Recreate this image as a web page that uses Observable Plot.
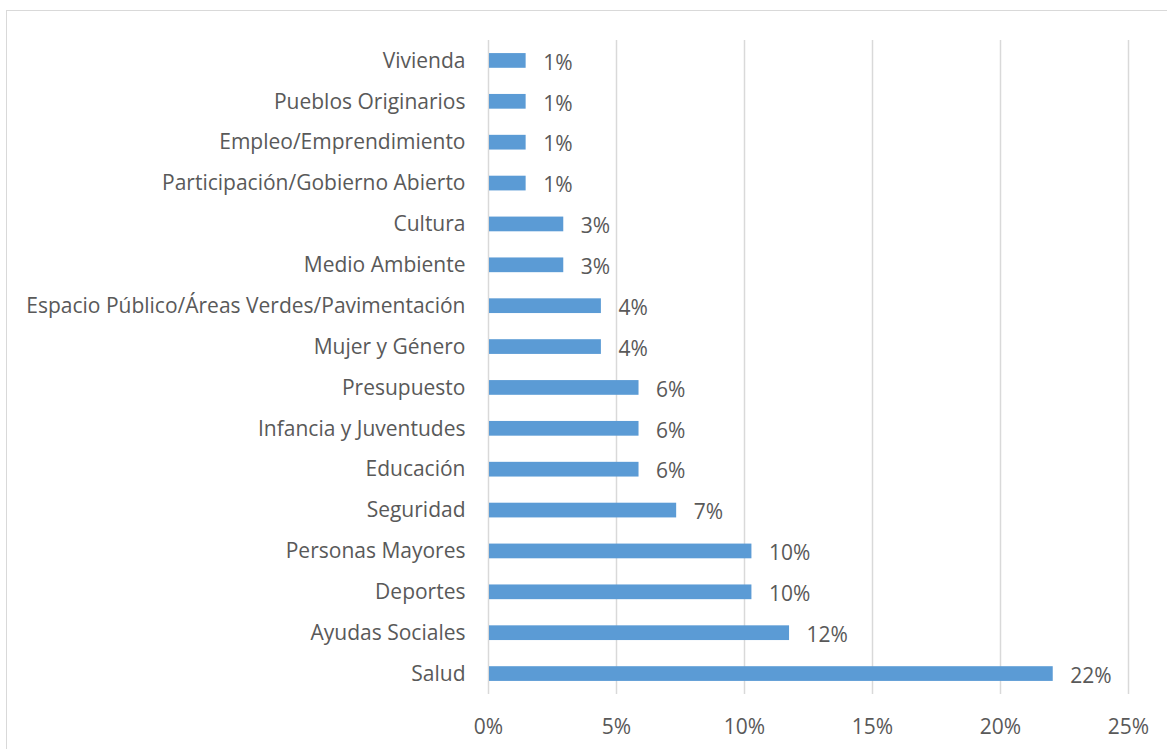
<!DOCTYPE html>
<html>
<head>
<meta charset="utf-8">
<script src="https://cdn.jsdelivr.net/npm/d3@7"></script>
<script src="https://cdn.jsdelivr.net/npm/@observablehq/plot@0.6"></script>
<style>
  html, body { margin: 0; padding: 0; background: #fff; }
  #wrap { position: relative; width: 1167px; height: 749px; overflow: hidden; }
  #border { position: absolute; left: 6px; top: 10px; width: 1400px; height: 1000px; border: 1.5px solid #d9d9d9; box-sizing: border-box; }
  #chart { position: absolute; left: 0; top: 0; }
</style>
</head>
<body>
<div id="wrap"><div id="border"></div><div id="chart"></div></div>
<script>
const categories = [
  "Vivienda",
  "Pueblos Originarios",
  "Empleo/Emprendimiento",
  "Participación/Gobierno Abierto",
  "Cultura",
  "Medio Ambiente",
  "Espacio Público/Áreas Verdes/Pavimentación",
  "Mujer y Género",
  "Presupuesto",
  "Infancia y Juventudes",
  "Educación",
  "Seguridad",
  "Personas Mayores",
  "Deportes",
  "Ayudas Sociales",
  "Salud"
];
const values = [1.47, 1.47, 1.47, 1.47, 2.94, 2.94, 4.41, 4.41, 5.88, 5.88, 5.88, 7.35, 10.29, 10.29, 11.76, 22.06];
const valueLabels = ["1%", "1%", "1%", "1%", "3%", "3%", "4%", "4%", "6%", "6%", "6%", "7%", "10%", "10%", "12%", "22%"];
const xTicks = [0, 5, 10, 15, 20, 25];
const xTickLabels = ["0%", "5%", "10%", "15%", "20%", "25%"];

const data = categories.map((c, i) => ({category: c, value: values[i], label: valueLabels[i]}));

const textColor = "#595959";
const font = "'Open Sans', sans-serif";

const chart = Plot.plot({
  width: 1167,
  height: 749,
  marginTop: 40,
  marginBottom: 55,
  marginLeft: 488,
  marginRight: 39,
  style: {fontFamily: font, fontSize: "21px", color: textColor, background: "transparent"},
  x: {domain: [0, 25], ticks: xTicks},
  y: {domain: categories, paddingInner: 0.64, paddingOuter: 0.32, align: 0.5, round: false},
  marks: [
    Plot.ruleX(xTicks, {stroke: "#d9d9d9", strokeWidth: 1.5}),
    Plot.barX(data, {x: "value", y: "category", fill: "#5b9bd5", insetLeft: 1}),
    Plot.text(data, {x: "value", y: "category", text: "label", textAnchor: "start", dx: 17, dy: 2, fill: textColor, fontSize: 21}),
    Plot.axisX({ticks: xTicks, tickFormat: d => xTickLabels[xTicks.indexOf(d)], tickSize: 0, tickPadding: 25, fontSize: 21, fill: textColor, label: null}),
    Plot.axisY({tickSize: 0, tickPadding: 23, fontSize: 21, fill: textColor, label: null})
  ]
});
document.getElementById("chart").appendChild(chart);
</script>
</body>
</html>
